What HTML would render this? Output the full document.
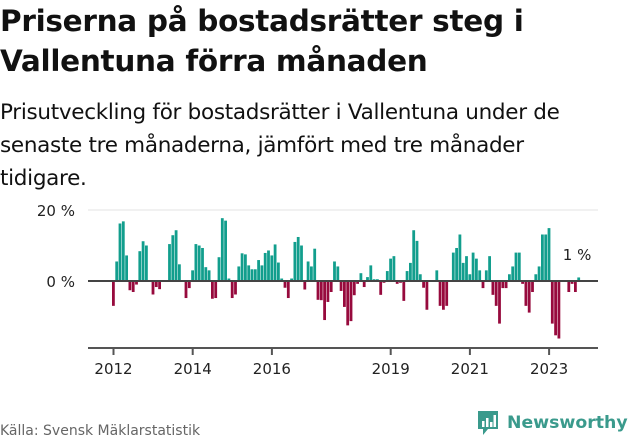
<!DOCTYPE html>
<html><head><meta charset="utf-8"><style>
body{margin:0;width:631px;height:439px;background:#fff;font-family:"Liberation Sans","DejaVu Sans",sans-serif;position:relative;overflow:hidden;color:#111}
h1{position:absolute;left:0;top:1px;margin:0;font-size:29.5px;line-height:40px;font-weight:bold;font-family:"DejaVu Sans","Liberation Sans",sans-serif;letter-spacing:-0.3px;white-space:nowrap}
.sub{position:absolute;left:0;top:96px;margin:0;font-size:21.5px;line-height:33px;font-family:"DejaVu Sans","Liberation Sans",sans-serif;letter-spacing:-0.3px;white-space:nowrap}
.src{position:absolute;left:0;top:423px;font-size:14px;color:#666;font-family:"DejaVu Sans",sans-serif}
.logo{position:absolute;left:476px;top:409px;display:flex;align-items:center;gap:7px;color:#3a9a8c;font-size:17.3px;font-weight:bold;font-family:"DejaVu Sans",sans-serif}
</style></head><body>
<h1>Priserna på bostadsrätter steg i<br>Vallentuna förra månaden</h1>
<p class="sub">Prisutveckling för bostadsrätter i Vallentuna under de<br>senaste tre månaderna, jämfört med tre månader<br>tidigare.</p>
<svg id="chart" width="631" height="439" style="position:absolute;left:0;top:0"></svg>
<div class="src">Källa: Svensk Mäklarstatistik</div>
<div class="logo"><svg width="24" height="28" viewBox="0 0 24 28"><path d="M2 2h20v18H12l-5 6v-6H2z" fill="#3a9a8c"/><rect x="6" y="12" width="2.5" height="6" fill="#fff"/><rect x="10" y="9" width="2.5" height="9" fill="#fff"/><rect x="14" y="13" width="2.5" height="5" fill="#fff"/><rect x="17.5" y="6" width="2.5" height="12" fill="#fff"/></svg><span>Newsworthy</span></div>
<script>
const values=[-7,5.5,16.2,16.8,7.2,-2.6,-3.1,-1,8.4,11.2,10,0,-3.8,-1.7,-2.3,0,0,10.4,12.9,14.3,4.7,0,-4.8,-2,3,10.4,10,9.3,3.9,3,-5,-4.8,6.7,17.7,17,0.7,-4.8,-3.8,4.1,7.8,7.5,4.4,3.3,3.3,5.9,4.4,7.9,8.6,7.2,10.3,5.2,0.7,-1.9,-4.8,0.7,11,12.4,10,-2.4,5.5,4.1,9.1,-5.3,-5.4,-11,-5.9,-3.1,5.5,4.1,-2.8,-7.3,-12.5,-11.3,-4,-0.8,2.2,-1.7,1.1,4.4,0.5,0.5,-3.9,-0.5,2.8,6.3,7,-0.8,-0.5,-5.6,2.8,5.1,14.3,11.3,1.9,-1.9,-8.1,0,0,3,-7,-8.1,-7,0,8,9.3,13.1,5.1,7,1.9,8,6.3,3,-2,3,7,-3.9,-7,-12,-2,-2,1.9,4.1,8,8,-0.8,-7,-8.9,-3.1,1.9,4.1,13.1,13.1,14.9,-12,-15.3,-16.2,0,0,-3.1,-0.8,-3.1,1];
const yTicks=[0,20];
const yTickLabels=["0 %","20 %"];
const xTickMonths=[0,24,48,84,108,132];
const xTickLabels=["2012","2014","2016","2019","2021","2023"];
const lastLabel="1 %";
const svg=document.getElementById('chart');
const NS='http://www.w3.org/2000/svg';
const x=m=>113.5+3.3*m;
const y=v=>281-3.55*v;
function mk(t,a){const e=document.createElementNS(NS,t);for(const k in a)e.setAttribute(k,a[k]);svg.appendChild(e);return e;}
let g=mk('line',{x1:88,x2:598,y1:y(20),y2:y(20),stroke:'#e3e3e3','stroke-width':1});


yTicks.forEach((t,i)=>{const e=mk('text',{x:75,y:y(t)+6,'text-anchor':'end','font-size':15,fill:'#222','font-family':'DejaVu Sans, sans-serif'});e.textContent=yTickLabels[i];

});
values.forEach((v,i)=>{if(v===0)return;const top=v>0?y(v):y(0);const r=mk('rect',{x:x(i)-1.5,y:top,width:2.8,height:Math.abs(y(v)-y(0)),fill:v>0?'#129e8d':'#970a3d'});

});
let z=mk('line',{x1:88,x2:598,y1:y(0),y2:y(0),stroke:'#444','stroke-width':2});


let ax=mk('line',{x1:88,x2:598,y1:348,y2:348,stroke:'#555','stroke-width':2});


xTickMonths.forEach((m,i)=>{const t=mk('line',{x1:x(m),x2:x(m),y1:348,y2:355,stroke:'#555','stroke-width':2});


const l=mk('text',{x:x(m),y:374,'text-anchor':'middle','font-size':15,fill:'#222','font-family':'DejaVu Sans, sans-serif'});l.textContent=xTickLabels[i];

});
const ann=mk('text',{x:x(values.length-1)-16,y:260,'font-size':15,fill:'#222','font-family':'DejaVu Sans, sans-serif'});ann.textContent=lastLabel;


</script>
</body></html>
